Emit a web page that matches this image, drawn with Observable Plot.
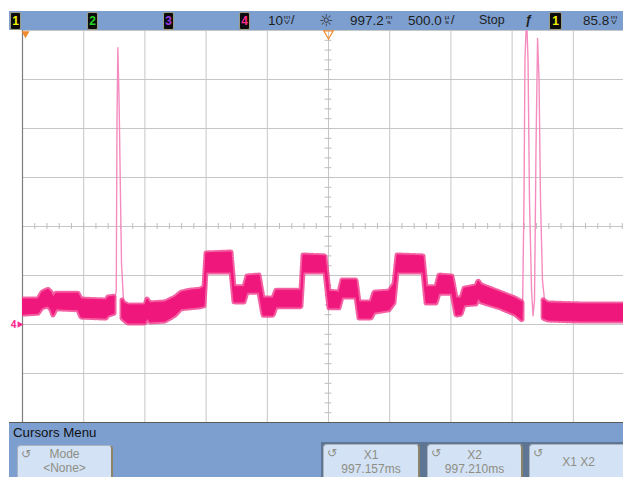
<!DOCTYPE html>
<html>
<head>
<meta charset="utf-8">
<script src="https://cdn.jsdelivr.net/npm/d3@7"></script>
<script src="https://cdn.jsdelivr.net/npm/@observablehq/plot@0.6"></script>
<style>
  body { margin: 0; background: #fff; }
  #wrap { position: relative; width: 623px; height: 477px; overflow: hidden; background: #fff;
          font-family: "Liberation Sans", Arial, sans-serif; }
  #chart { position: absolute; left: 0; top: 0; }
  #header { position: absolute; left: 9px; top: 11px; width: 614px; height: 19px; background: #7c9fd0; }
  .hi { position: absolute; top: 0; height: 19px; line-height: 19px; font-size: 12.5px; color: #1e1e1e; white-space: nowrap; }
  .num { font-size: 13.5px; }
  .ch { position: absolute; top: 1px; height: 16px; width: 9px; background: #0c0c0c; border: 1px solid #9c9c84;
        border-radius: 2px; font: bold 12px "Liberation Sans", Arial, sans-serif; line-height: 16px; text-align: center; }
  .su { position: absolute; top: 4px; width: 8px; height: 10px; }
  .su span { position: absolute; left: 0; width: 8px; height: 8px; font-size: 8px; line-height: 8px; text-align: center;
             color: #1e1e1e; transform: scaleY(0.62); transform-origin: top center; }
  .su .a { top: 0; }
  .su .b { top: 5px; }
  #menu { position: absolute; left: 9px; top: 422px; width: 614px; height: 55px; background: #7c9fd0;
          border-top: 1px solid #5a5a5a; box-sizing: border-box; }
  #menuTitle { position: absolute; left: 4px; top: 2px; font-size: 13.3px; color: #111; }
  #keys { position: absolute; left: 312px; top: 19px; width: 302px; height: 36px; background: #5f7594; }
  .btn { position: absolute; background: #d3e2f5; border: 1px solid #aab4c0; border-right: 2px solid #8c8468;
         border-radius: 4px; box-sizing: border-box; color: #8e8e84; font-size: 12px; text-align: center; line-height: 14px; }
  .icon { position: absolute; left: 3px; top: 1px; font-size: 12px; line-height: 14px; color: #8e8e84; font-family: "DejaVu Sans", sans-serif; }
</style>
</head>
<body>
<div id="wrap">
  <div id="chart"></div>
  <div id="header">
    <div class="ch" style="left:1px;color:#f2f200">1</div>
    <div class="ch" style="left:78px;color:#22d422">2</div>
    <div class="ch" style="left:154px;color:#9a3ae0">3</div>
    <div class="ch" style="left:230px;color:#ff2a8e">4</div>
    <div class="hi num" style="left:259px">10</div>
    <div class="su" style="left:274px"><span class="a">m</span><span class="b">V</span></div>
    <div class="hi" style="left:282px">/</div>
    <div class="hi" style="left:310px;font-size:16px;font-family:'DejaVu Sans',sans-serif;color:#333">☼</div>
    <div class="hi num" style="left:341px">997.2</div>
    <div class="su" style="left:376px"><span class="a">m</span><span class="b">s</span></div>
    <div class="hi num" style="left:399px">500.0</div>
    <div class="su" style="left:434px"><span class="a">µ</span><span class="b">s</span></div>
    <div class="hi" style="left:442px">/</div>
    <div class="hi" style="left:470px">Stop</div>
    <div class="hi" style="left:516px;font-style:italic;font-weight:bold">ƒ</div>
    <div class="ch" style="left:540px;width:11px;color:#f2f200">1</div>
    <div class="hi num" style="left:574px">85.8</div>
    <div class="su" style="left:601px"><span class="a">m</span><span class="b">V</span></div>
  </div>
  <div id="menu">
    <div id="menuTitle">Cursors Menu</div>
    <div class="btn" style="left:8px;top:22px;width:96px;height:36px;padding-top:1px">
      <span class="icon">↺</span>Mode<br>&lt;None&gt;</div>
    <div id="keys">
      <div class="btn" style="left:2px;top:2px;width:97px;height:36px;padding-top:3px">
        <span class="icon">↺</span>X1<br>997.157ms</div>
      <div class="btn" style="left:106px;top:2px;width:96px;height:36px;padding-top:3px">
        <span class="icon">↺</span>X2<br>997.210ms</div>
      <div class="btn" style="left:208px;top:2px;width:100px;height:36px;padding-top:10px">
        <span class="icon">↺</span>X1 X2</div>
    </div>
  </div>
</div>
<script>
// Time relative to the 997.2 ms delay reference (µs), channel 4 voltage (mV)
const bandSegment = [0,0,0,0,0,0,0,0,0,0,0,0,
  1,1,1,1,1,1,1,1,1,1,1,1,1,1,1,1,1,1,1,1,1,1,1,1,1,1,1,1,1,1,1,1,1,1,1,1,1,1,1,1,1,1,1,1,1,1,1,1,
  2,2,2,2];
const bandTime = [-2500,-2369,-2337,-2288,-2263,-2247,-2222,-2043,-2018,-1814,-1797,-1748,
  -1683,-1667,-1634,-1495,-1479,-1454,-1332,-1250,-1201,-1127,-1046,-1013,-997,-792,-768,-686,-662,-564,
  -531,-449,-425,-221,-204,-25,8,90,114,229,253,351,376,498,539,564,776,801,882,907,1013,1046,1087,1111,
  1209,1226,1250,1405,1528,1585,
  1757,1797,2059,2410];
const bandLow = [2.0,2.2,3.3,3.7,2.9,1.8,3.1,2.9,1.4,1.2,1.8,2.2,
  1.2,0.8,0.2,0.2,1.2,0.4,0.6,1.8,3.1,3.3,3.5,3.7,10.6,10.6,4.5,4.5,6.5,6.5,
  1.8,1.8,3.5,3.5,10.6,10.6,3.3,3.3,5.5,5.5,1.2,1.2,2.4,2.9,4.3,10.6,10.6,4.3,4.3,6.3,6.3,1.8,2.0,3.9,
  4.1,5.3,4.5,3.3,2.0,0.8,
  1.2,0.8,0.6,0.6];
const bandHigh = [5.1,5.1,6.5,7.1,6.5,5.5,6.3,6.3,5.1,4.9,5.5,5.7,
  4.9,4.3,3.9,3.9,5.1,4.3,4.5,5.5,6.5,6.9,7.1,7.6,14.5,14.7,7.6,7.6,9.8,10.0,
  5.3,5.3,6.9,6.9,14.1,13.9,6.7,6.5,9.0,9.0,4.5,4.5,6.5,6.7,8.2,14.1,13.9,7.6,7.6,10.0,9.8,5.3,5.3,7.3,
  7.8,8.8,8.0,6.5,5.3,4.5,
  4.9,4.3,4.1,4.1];

const spikeId = [0,0,0,0,0,0,0,0, 1,1,1,1,1,1,1,1,1,1,1,1,1,1,1];
const spikeTime = [-1748,-1734,-1728,-1721,-1711,-1699,-1691,-1675,
  1585,1597,1605,1618,1630,1642,1659,1671,1683,1695,1708,1720,1732,1748,1765];
const spikeVolt = [4.9,6.9,41.6,56.5,45.7,25.3,12.4,4.9,
  2.4,25.3,53.9,63.0,53.9,25.3,6.9,1.8,4.9,35.5,58.4,49.8,25.3,9.0,4.9];

const xGrid = [-2500,-2000,-1500,-1000,-500,0,500,1000,1500,2000];
const yGrid = [-20,-10,0,10,20,30,40,50,60];
const xMinor = d3.range(-2500, 2410, 100);
const yMinor = d3.range(-20, 61, 2);

const band = bandTime.map((t, i) => ({t, lo: bandLow[i], hi: bandHigh[i], seg: bandSegment[i]}));
const spikes = spikeTime.map((t, i) => ({t, v: spikeVolt[i], id: spikeId[i]}));

const chart = Plot.plot({
  width: 623, height: 422,
  marginLeft: 22, marginRight: 0, marginTop: 30, marginBottom: 0,
  x: {domain: [-2500, 2410], axis: null},
  y: {domain: [-20, 60], axis: null},
  style: {background: "transparent", overflow: "visible"},
  marks: [
    Plot.ruleX(xGrid, {stroke: "#c6c6c6", strokeWidth: 1}),
    Plot.ruleY(yGrid, {stroke: "#c6c6c6", strokeWidth: 1}),
    Plot.ruleX(xMinor, {y1: 19.4, y2: 20.6, stroke: "#bdbdbd"}),
    Plot.ruleY(yMinor, {x1: -28, x2: 28, stroke: "#bdbdbd"}),
    Plot.ruleX([-2500], {stroke: "#7c7c7c", strokeWidth: 1.2}),
    Plot.line(spikes, {x: "t", y: "v", z: "id", stroke: "#f58cbf", strokeWidth: 1.4, clip: true}),
    Plot.areaY(band, {x: "t", y1: "lo", y2: "hi", z: "seg", fill: "none", stroke: "#f03a8c", strokeWidth: 5,
      strokeDasharray: "1,1.6", strokeOpacity: 0.8, clip: true}),
    Plot.areaY(band, {x: "t", y1: "lo", y2: "hi", z: "seg", fill: "#f0177c", stroke: "#f0177c", strokeWidth: 1, clip: true}),
    Plot.dot([{t: -2500, v: 60}], {x: "t", y: "v", symbol: "triangle", rotate: 180, r: 3, fill: "#ef8a2c", dx: 3, dy: 3}),
    Plot.dot([{t: 0, v: 60}], {x: "t", y: "v", symbol: "triangle", rotate: 180, r: 3.5, fill: "none", stroke: "#ef8a2c", strokeWidth: 1.2, dy: 3}),
    Plot.text([{t: -2500, v: 0}], {x: "t", y: "v", text: () => "4", dx: -9, fill: "#ff2a8e", fontSize: 10, fontWeight: "bold"}),
    Plot.dot([{t: -2500, v: 0}], {x: "t", y: "v", symbol: "triangle", rotate: 90, r: 2.5, fill: "#ff2a8e", dx: -3})
  ]
});
document.getElementById("chart").appendChild(chart);
</script>
</body>
</html>
